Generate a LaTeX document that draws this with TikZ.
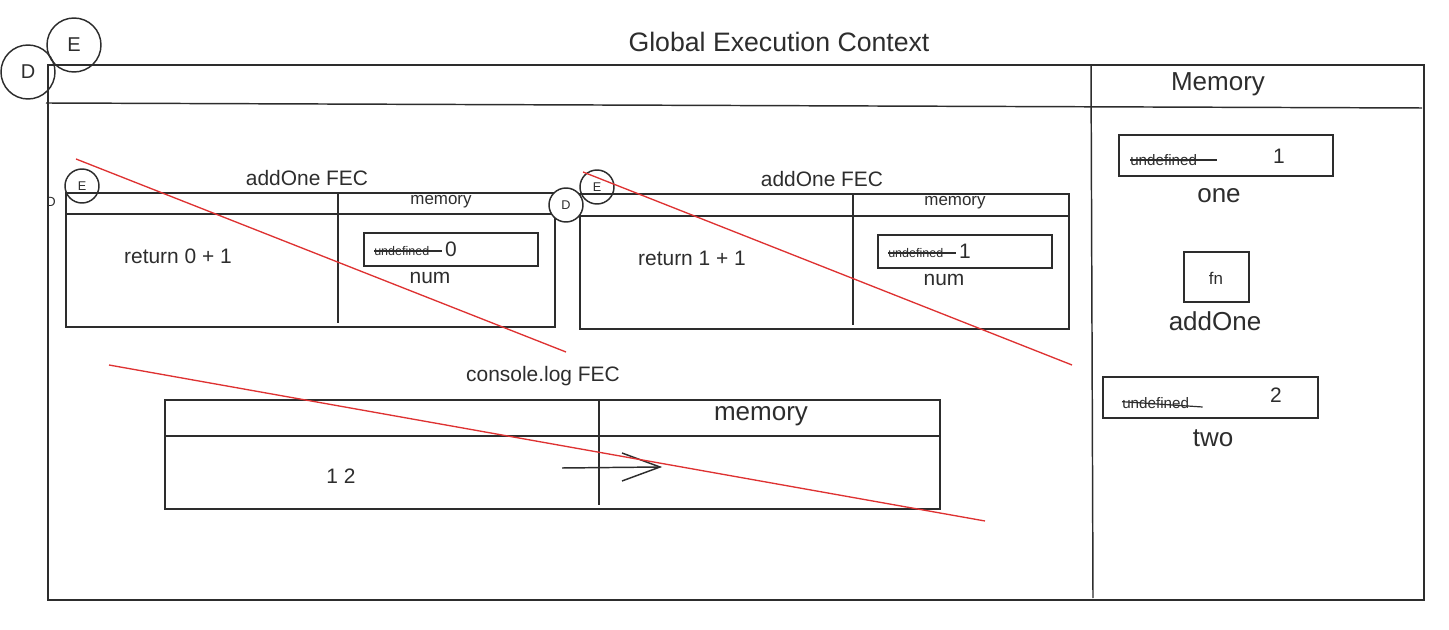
\documentclass[tikz,border=0pt]{standalone}
\usepackage{fontspec}
\setmainfont{Liberation Sans}
\definecolor{redln}{RGB}{222,50,50}
\definecolor{inkc}{RGB}{45,45,45}
\begin{document}
\begin{tikzpicture}[x=0.75pt,y=-0.75pt,
  every node/.style={inner sep=0pt, text=inkc},
  ln/.style={draw=inkc, line width=1.1pt},
  red/.style={draw=redln, line width=1pt},
  huge/.style={font=\fontsize{20}{24}\selectfont},
  big/.style={font=\fontsize{19.5}{23}\selectfont},
  mid/.style={font=\fontsize{15.7}{19}\selectfont},
  sml/.style={font=\fontsize{12.7}{15}\selectfont},
  tiny/.style={font=\fontsize{9.4}{11}\selectfont},
  rtiny/.style={font=\fontsize{11.4}{13}\selectfont},
  circ/.style={draw=inkc, line width=1.1pt, circle},
  strike/.style={draw=inkc, line width=0.9pt}]
\useasboundingbox (0,0) rectangle (1449,630);

% Global EC
\node[huge] (title) at (779,42) {Global Execution Context};
\draw[ln] (48,65) rectangle (1424,600);
\draw[ln] (46,103) -- (1422,108);
\draw[ln] (1091,65) -- (1093,598);
\node[big] (memT) at (1218,84) {Memory};
\node[circ, minimum size=54pt*0.75] (cD) at (28,72) {};
\node[font=\fontsize{15}{18}\selectfont] at (cD) {D};
\node[circ, minimum size=54pt*0.75] (cE) at (74,45) {};
\node[font=\fontsize{15}{18}\selectfont] at (cE) {E};

% addOne FEC 1
\node[mid] (t1) at (307,178) {addOne FEC};
\draw[ln] (66,193) rectangle (555,327);
\draw[ln] (66,214) -- (555,214);
\draw[ln] (338,193) -- (338,323);
\node[sml] (m1) at (441,202) {memory};
\node[mid] (r1) at (178,256) {return 0 + 1};
\draw[ln] (364,233) rectangle (538,266);
\node[tiny, anchor=west] (u1) at (374,251) {undefined};
\draw[strike] (u1.west) -- ([xshift=9]u1.east);
\node[mid] (v1) at (451,249) {0};
\node[mid] (n1) at (430,278) {num};
\node[circ, minimum size=34pt*0.75] (e1) at (82,186) {};
\node[font=\fontsize{9.5}{11}\selectfont] at (e1) {E};
\node[font=\fontsize{10}{12}\selectfont] (d1) at (51,202) {D};

% addOne FEC 2
\node[mid] (t2) at (822,179) {addOne FEC};
\draw[ln] (580,194) rectangle (1069,329);
\draw[ln] (580,216) -- (1069,216);
\draw[ln] (853,194) -- (853,325);
\node[sml] (m2) at (955,203) {memory};
\node[mid] (r2) at (692,258) {return 1 + 1};
\draw[ln] (878,235) rectangle (1052,268);
\node[tiny, anchor=west] (u2) at (888,253) {undefined};
\draw[strike] (u2.west) -- ([xshift=9]u2.east);
\node[mid] (v2) at (965,251) {1};
\node[mid] (n2) at (944,280) {num};
\node[circ, minimum size=34pt*0.75, fill=white] (d2) at (566,205) {};
\node[font=\fontsize{9.5}{11}\selectfont] at (d2) {D};
\node[circ, minimum size=34pt*0.75] (e2) at (597,187) {};
\node[font=\fontsize{9.5}{11}\selectfont] at (e2) {E};

% console.log FEC
\node[mid] (t3) at (543,376) {console.log FEC};
\draw[ln] (165,400) rectangle (940,509);
\draw[ln] (165,436) -- (940,436);
\draw[ln] (599,400) -- (599,505);
\node[big] (m3) at (761,416) {memory};
\node[mid] (o3) at (341,476) {1 2};
\coordinate (a0) at (562,468);
\coordinate (a1) at (660,467);
\draw[ln] (a0) -- (a1);
\draw[ln] (622,453) -- (a1) -- (622,481);

% right memory
\draw[ln] (1119,135) rectangle (1333,176);
\node[rtiny, anchor=west] (u3) at (1130,160) {undefined};
\draw[strike] (u3.west) -- ([xshift=15]u3.east);
\node[mid] (v3) at (1279,156) {1};
\node[big] (one) at (1219,196) {one};
\draw[ln] (1184,252) rectangle (1249,302);
\node[sml] (fn) at (1216,278) {fn};
\node[big] (add) at (1215,321) {addOne};
\draw[ln] (1103,377) rectangle (1318,418);
\node[rtiny, anchor=west] (u4) at (1122,403) {undefined};
\draw[strike] ([yshift=1]u4.west) -- ([xshift=10,yshift=-3]u4.east);
\node[mid] (v4) at (1276,395) {2};
\node[big] (two) at (1213,438) {two};

% red strike lines
\coordinate (ra0) at (76,159); \coordinate (ra1) at (566,352);
\coordinate (rb0) at (583,172); \coordinate (rb1) at (1072,365);
\coordinate (rc0) at (109,365); \coordinate (rc1) at (985,521);
\draw[red] (ra0) -- (ra1);
\draw[red] (rb0) -- (rb1);
\draw[red] (rc0) -- (rc1);
\end{tikzpicture}
\end{document}
